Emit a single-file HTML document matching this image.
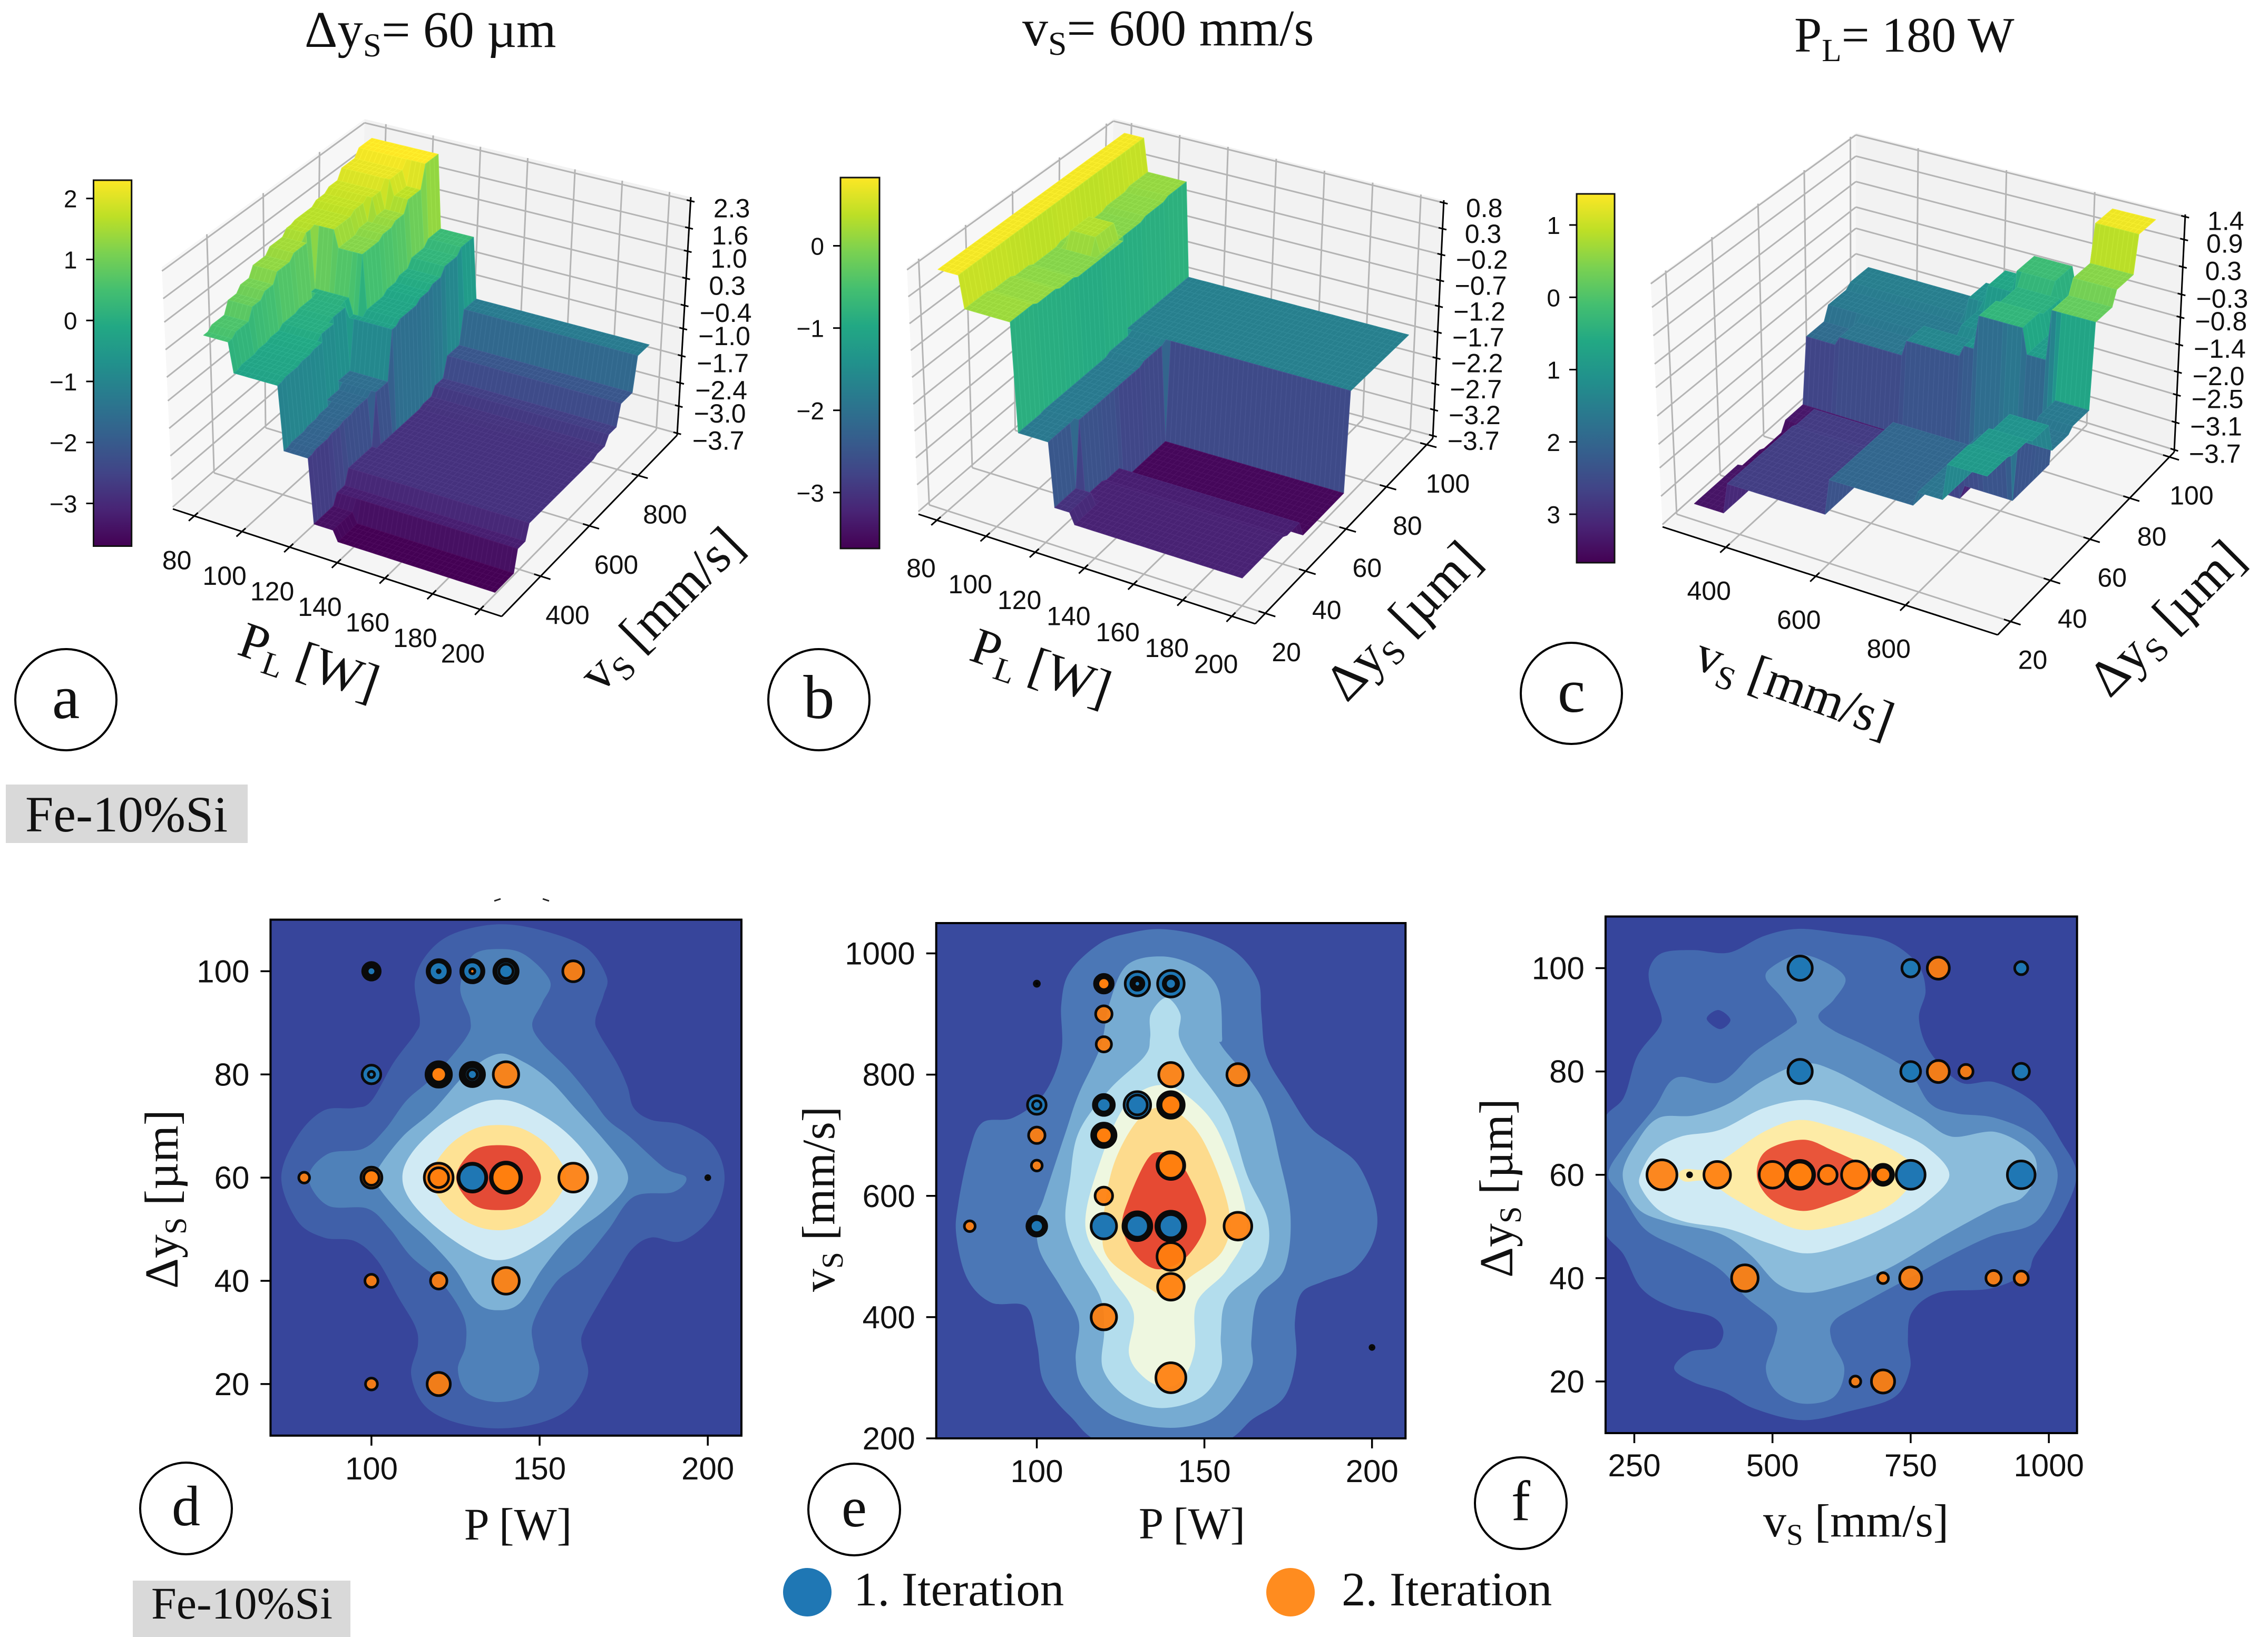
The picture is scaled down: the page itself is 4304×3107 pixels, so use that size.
<!DOCTYPE html>
<html>
<head>
<meta charset="utf-8">
<title>Fe-10%Si response surfaces and contour maps</title>
<style>
html,body{margin:0;padding:0;background:#fff;}
svg{display:block;}
.serif{font-family:"Liberation Serif","DejaVu Serif",serif;fill:#111;}
.sans{font-family:"Liberation Sans","DejaVu Sans",sans-serif;fill:#111;}
</style>
</head>
<body>
<svg id="fig" xmlns="http://www.w3.org/2000/svg" width="4304" height="3107" viewBox="0 0 4304 3107">
<rect width="4304" height="3107" fill="#ffffff"/>
<defs id="defs"></defs>

<g id="plot-a"></g>
<g id="plot-b"></g>
<g id="plot-c"></g>
<g id="plot-d"></g>
<g id="plot-e"></g>
<g id="plot-f"></g>

<text class="serif" x="578" y="89" font-size="97">Δy<tspan font-size="65%" dy="18">S</tspan><tspan dy="-18">= 60 µm</tspan></text>
<text class="serif" x="1940" y="86" font-size="98">v<tspan font-size="65%" dy="18">S</tspan><tspan dy="-18">= 600 mm/s</tspan></text>
<text class="serif" x="3405" y="98" font-size="94">P<tspan font-size="65%" dy="18">L</tspan><tspan dy="-18">= 180 W</tspan></text>

<text class="serif" transform="translate(586,1257) rotate(19)" y="30" text-anchor="middle" font-size="97">P<tspan font-size="65%" dy="18">L</tspan><tspan dy="-18"> [W]</tspan></text>
<text class="serif" transform="translate(1256,1158) rotate(-45)" y="30" text-anchor="middle" font-size="98">v<tspan font-size="65%" dy="18">S</tspan><tspan dy="-18"> [mm/s]</tspan></text>
<text class="serif" transform="translate(1975,1268) rotate(19)" y="30" text-anchor="middle" font-size="97">P<tspan font-size="65%" dy="18">L</tspan><tspan dy="-18"> [W]</tspan></text>
<text class="serif" transform="translate(2664,1180) rotate(-46)" y="30" text-anchor="middle" font-size="99">Δy<tspan font-size="65%" dy="18">S</tspan><tspan dy="-18"> [µm]</tspan></text>
<text class="serif" transform="translate(3405,1306) rotate(20)" y="30" text-anchor="middle" font-size="98">v<tspan font-size="65%" dy="18">S</tspan><tspan dy="-18"> [mm/s]</tspan></text>
<text class="serif" transform="translate(4113,1175) rotate(-45)" y="30" text-anchor="middle" font-size="98">Δy<tspan font-size="65%" dy="18">S</tspan><tspan dy="-18"> [µm]</tspan></text>

<text class="serif" x="983" y="2922" text-anchor="middle" font-size="86">P [W]</text>
<text class="serif" x="2262" y="2920" text-anchor="middle" font-size="85">P [W]</text>
<text class="serif" x="3522" y="2916" text-anchor="middle" font-size="88">v<tspan font-size="65%" dy="16">S</tspan><tspan dy="-16"> [mm/s]</tspan></text>
<text class="serif" transform="translate(337,2276) rotate(-90)" text-anchor="middle" font-size="90">Δy<tspan font-size="65%" dy="16">S</tspan><tspan dy="-16"> [µm]</tspan></text>
<text class="serif" transform="translate(1583,2276) rotate(-90)" text-anchor="middle" font-size="88">v<tspan font-size="65%" dy="16">S</tspan><tspan dy="-16"> [mm/s]</tspan></text>
<text class="serif" transform="translate(2870,2255) rotate(-90)" text-anchor="middle" font-size="90">Δy<tspan font-size="65%" dy="16">S</tspan><tspan dy="-16"> [µm]</tspan></text>

<g><circle cx="125" cy="1328" r="96" fill="#fff" stroke="#000" stroke-width="4"/><text class="serif" x="125" y="1363" text-anchor="middle" font-size="118">a</text></g>
<g><circle cx="1554" cy="1328" r="96" fill="#fff" stroke="#000" stroke-width="4"/><text class="serif" x="1554" y="1363" text-anchor="middle" font-size="118">b</text></g>
<g><circle cx="2982" cy="1316" r="96" fill="#fff" stroke="#000" stroke-width="4"/><text class="serif" x="2982" y="1351" text-anchor="middle" font-size="118">c</text></g>
<g><circle cx="353" cy="2863" r="87" fill="#fff" stroke="#000" stroke-width="4"/><text class="serif" x="353" y="2895" text-anchor="middle" font-size="108">d</text></g>
<g><circle cx="1621" cy="2865" r="87" fill="#fff" stroke="#000" stroke-width="4"/><text class="serif" x="1621" y="2897" text-anchor="middle" font-size="108">e</text></g>
<g><circle cx="2886" cy="2853" r="87" fill="#fff" stroke="#000" stroke-width="4"/><text class="serif" x="2886" y="2885" text-anchor="middle" font-size="108">f</text></g>

<g><rect x="11" y="1489" width="459" height="111" fill="#d9d9d9"/><text class="serif" x="240" y="1578" text-anchor="middle" font-size="96">Fe-10%Si</text></g>
<g><rect x="252" y="3000" width="413" height="107" fill="#d9d9d9"/><text class="serif" x="459" y="3072" text-anchor="middle" font-size="86">Fe-10%Si</text></g>

<g><ellipse cx="1532" cy="3022" rx="46" ry="46" fill="#1f77b4"/><text class="serif" x="1620" y="3047" font-size="91">1. Iteration</text></g>
<g><ellipse cx="2449" cy="3022" rx="46" ry="46" fill="#ff8c1f"/><text class="serif" x="2546" y="3047" font-size="91">2. Iteration</text></g>

<line x1="938" y1="1710" x2="950" y2="1706" stroke="#222" stroke-width="3"/>
<line x1="1030" y1="1706" x2="1042" y2="1710" stroke="#222" stroke-width="3"/>
</svg>

<script>
// ===== Surface a: stepped response, x = laser power, y = scan speed =====
const aRowEnds = [330,380,430,480,530,590,630,700,750,800,860,910];
const aRows = [
 [[90,.5],[110,-.25],[122,-1.85],[132,-3.45],[200,-3.7]],
 [[90,.6],[110,-.2],[122,-1.8],[132,-3.45],[200,-3.7]],
 [[90,.9],[110,-.15],[122,-1.75],[200,-3.2]],
 [[91,1.05],[110,-.1],[123,-1.7],[200,-2.85]],
 [[91,1.3],[109,0],[123,-1.65],[200,-2.85]],
 [[90,1.45],[107,.05],[124,-1.55],[200,-2.85]],
 [[88,1.6],[105,.1],[124,-.3],[200,-2.85]],
 [[96,1.65],[108,1.2],[125,-.2],[200,-2.85]],
 [[97,1.75],[108,1.3],[125,-.1],[200,-2.8]],
 [[98,1.85],[108,1.4],[125,0],[200,-2.6]],
 [[101,2.1],[109,1.7],[125,.2],[200,-2.1]],
 [[109,2.3],[125,.35],[200,-1.25]]
];
const aXTicks = [80,100,120,140,160,180,200];
const aYTicks = [400,600,800];
const aZTicks = [2.3,1.6,1.0,0.3,-0.4,-1.0,-1.7,-2.4,-3.0,-3.7];
const aColorRange = [-3.7,2.3];
const aBarTicks = [2,1,0,-1,-2,-3];
const aBarLabels = ["2","1","0","−1","−2","−3"];

// ===== Surface b: x = laser power, y = hatch distance =====
const bRowEnds = [30,40,48,60,71,80,90,100];
const bRows = [
 [[89,.75],[108,.15],[122,-1.87],[130,-3.05],[200,-3.25]],
 [[89,.75],[108,.1],[124,-1.85],[200,-3.25]],
 [[89,.75],[108,.05],[125,-1.85],[200,-3.3]],
 [[89,.75],[108,0],[125,-1.85],[200,-3.6]],
 [[89,.75],[92,.05],[105,.3],[108,0],[125,-1.8],[200,-3.6]],
 [[89,.75],[107,0],[200,-1.75]],
 [[89,.75],[107,.05],[200,-1.75]],
 [[88,.75],[107,.1],[200,-1.75]]
];
const bXTicks = [80,100,120,140,160,180,200];
const bYTicks = [20,40,60,80,100];
const bZTicks = [0.8,0.3,-0.2,-0.7,-1.2,-1.7,-2.2,-2.7,-3.2,-3.7];
const bColorRange = [-3.68,0.83];
const bBarTicks = [0,-1,-2,-3];
const bBarLabels = ["0","−1","−2","−3"];

// ===== Surface c: x = scan speed, y = hatch distance =====
const cRowEnds = [30,40,50,60,70,80,90,100];
const cRows = [
 [[370,-3.4],[600,-2.75],[790,-2],[860,-1.7],[950,-.95]],
 [[370,-3.4],[600,-2.75],[790,-2],[860,-1.7],[950,-1]],
 [[370,-3.5],[600,-2.75],[790,-2],[860,-1.7],[950,-1.1]],
 [[370,-3.55],[600,-2.8],[750,-3.3],[870,-3],[950,-1.7]],
 [[750,-3.35],[870,-3],[950,-1.6]],
 [[370,-1.9],[526,-1.7],[654,-1.35],[680,-1.1],[790,-.35],[850,-.9],[950,.2]],
 [[600,-1.6],[680,-1.2],[790,-.45],[850,-.9],[950,.5]],
 [[570,-1.5],[610,-1.1],[670,-.7],[770,-.2],[850,-.7],[950,1.3]]
];
const cXTicks = [400,600,800];
const cYTicks = [20,40,60,80,100];
const cZTicks = [1.4,0.9,0.3,-0.3,-0.8,-1.4,-2.0,-2.5,-3.1,-3.7];
const cColorRange = [-3.67,1.43];
const cBarTicks = [1,0,-1,-2,-3];
const cBarLabels = ["1","0","1","2","3"];

// ===== Contour d: outlines in (P [W], hatch [µm]) data units =====
const dLevels = [
 [[137.8,109.1],[150.8,107.9],[163.8,104.6],[169.9,99],[169,95.3],[166.6,90.7],[167.7,87.9],[172.9,82.3],[176.1,77.7],[178,73.5],[183.2,71.2],[192.3,70.2],[201.4,66.5],[205,60],[201.4,52.6],[192.3,47.7],[183.2,48.4],[177.4,46.1],[172.9,41.4],[167.7,35.8],[163.1,30.3],[162.5,27.5],[164.4,21.9],[159.9,15.9],[150.8,12.6],[137.8,11.4],[124.8,12.6],[115.7,15.9],[111.8,21.9],[113.8,27.5],[113,31.2],[108,36.8],[101.7,44],[95,47.7],[85.8,48.4],[78,51.6],[73.2,60],[78,68],[85.8,73],[95,73.5],[100,74.9],[106.6,82.3],[113,87.9],[114.4,90.7],[112.9,98.1],[117,103.7],[124.8,107.4]],
 [[137.8,104.3],[145.6,103.2],[153.1,98.1],[150.8,93.9],[147.8,89.7],[150.8,86],[158.6,80.9],[165,75.8],[170.3,71.2],[176.8,67.9],[187.1,61.9],[193.6,60],[189.7,57.2],[178,56.3],[170.3,49.8],[162.5,43.7],[154.7,39.6],[148.2,32.1],[148.2,27.5],[149.9,22.8],[146.9,18.2],[137.8,16.5],[128.7,18.2],[125.7,22.8],[128,27.5],[127.4,33],[120.9,39.6],[111.8,44.7],[105.3,50.2],[98.8,54],[87,54.6],[81.3,60],[87,64.6],[97.5,65.6],[104,69.3],[110.5,75],[118.3,79.5],[128,87],[129.4,90.7],[126.4,96.7],[130,103]],
 [[137.8,84],[145.6,82.3],[153.4,78.6],[161.2,73],[169,67.4],[175.5,61.9],[175.5,58.1],[169,53.5],[158.6,48.4],[150.8,42.3],[144.3,35.8],[137.8,34.3],[131.3,35.8],[124.8,42.3],[117,47.9],[109.2,52.6],[101.7,58.6],[101.7,61.4],[109.2,67.9],[118.3,73],[128.7,80.5]],
 [[137.8,75.1],[145.6,73.9],[156,69.8],[163.8,64.6],[167.3,60],[163.8,55.4],[156,50.2],[145.6,45.6],[137.8,44],[130,45.6],[119.6,50.2],[111.8,55.4],[109.2,60],[111.8,64.6],[119.6,69.8],[130,73.9]],
 [[137.8,70.2],[145.6,69.3],[153.4,65.6],[157.9,60],[153.4,54.4],[145.6,50.9],[137.8,49.8],[130,50.9],[122.2,54.4],[117.7,60],[122.2,65.6],[130,69.3]],
 [[137.8,66.3],[145.6,65.1],[150.4,60],[145.6,54.9],[137.8,53.7],[130,54.9],[125.2,60],[130,65.1]]
];
const dHoles = [];
// each point: [P, hatch, marker size, iteration]; repeated coordinates are overlapping trials
const dPoints = [
 [80,60,9,2],[100,60,18,2],[100,60,13,2],[100,40,11,2],[100,20,10,2],
 [120,60,25,2],[120,60,17,2],[120,40,14,2],[120,20,20,2],
 [140,60,27,2],[140,60,24,2],[140,40,23,2],[160,60,25,2],[160,100,18,2],
 [120,80,22,2],[120,80,19,2],[120,80,16,2],[120,80,13,2],[140,80,22,2],[200,60,3,0],
 [100,100,15,1],[100,100,11,1],[100,100,7,1],
 [120,100,20,1],[120,100,16,1],[120,100,2,1],
 [130,100,20,1],[130,100,16,1],[130,100,4,2],
 [140,100,21,1],[140,100,17,1],[140,100,12,1],
 [100,80,16,1],[100,80,5,1],
 [130,80,21,1],[130,80,17,1],[130,80,13,1],[130,80,8,1],
 [130,60,25,1],[130,60,23,1]
];
const dXTicks = [100,150,200];
const dYTicks = [20,40,60,80,100];

// ===== Contour e: outlines in (P [W], scan speed [mm/s]) data units =====
const eLevels = [
 [[137.3,1040],[149,1029],[159.4,1002],[166,955],[167,900],[168.6,830],[175.1,768],[181.6,713],[188.1,686],[195.9,651],[201.2,580],[200.5,526],[194.6,479],[185.5,459],[179,440],[177,393],[177.3,331],[173.8,268],[164.7,233],[152.9,190],[121.6,190],[109.9,237],[102.1,292],[100.1,354],[96.9,417],[86.4,424],[79.3,463],[76,534],[76.6,588],[79.9,674],[83.8,721],[93,729],[102.1,768],[107.3,838],[107.3,916],[109.9,970],[119,1017],[128.1,1034]],
 [[137.3,995],[147.7,978],[154.2,939],[155.3,861],[155.3,846],[167.3,760],[172.5,658],[175.7,565],[173.8,479],[166,432],[164,362],[164,315],[156.8,253],[149,225],[137.3,218],[122.9,237],[113.8,284],[111.6,331],[112.5,393],[107.3,448],[100.8,510],[100.1,565],[102.1,596],[108.6,705],[112.5,768],[119,846],[121.6,916],[126.8,980]],
 [[138.6,927],[142.8,900],[142.5,861],[147.1,814],[156.8,736],[162.7,635],[169,557],[167.3,487],[156.8,432],[154.9,370],[154.9,315],[149,268],[137.3,250],[126.8,268],[119.7,315],[120.1,378],[119,432],[112.5,495],[108.6,557],[109.9,627],[112.5,705],[121.6,775],[132.1,830],[133.8,861],[134,900]],
 [[137.3,783],[147.7,752],[155.5,690],[162.7,557],[156.8,479],[147.7,424],[147.1,346],[143.8,300],[138.6,284],[132.1,300],[127.5,339],[128.8,409],[121.6,471],[114.5,549],[119,658],[126.8,752]],
 [[139.2,744],[149,697],[157.2,580],[155.5,510],[145.1,463],[139.9,432],[133.4,448],[121.6,495],[119.7,549],[122.9,651],[130.8,729]],
 [[136.6,672],[142.5,658],[149.7,580],[149.7,541],[143.8,495],[136,479],[129.5,502],[125.5,549],[127.5,596],[132.7,658]]
];
const eHoles = [];
const ePoints = [
 [100,950,4,0],[120,950,16,2],[120,950,13,2],[120,950,10,2],
 [130,950,21,1],[130,950,11,1],[130,950,8,1],[130,950,5,1],
 [140,950,23,1],[140,950,13,1],[140,950,9,1],
 [120,900,14,2],[120,850,13,2],[140,800,21,2],[160,800,19,2],
 [100,750,16,1],[100,750,7,1],
 [120,750,18,1],[120,750,15,1],[120,750,12,1],
 [130,750,23,1],[130,750,17,1],
 [140,750,23,2],[140,750,20,2],[140,750,17,2],
 [100,700,14,2],[120,700,21,2],[120,700,18,2],[120,700,14,2],
 [100,650,9,2],[140,650,24,2],[140,650,22,2],[120,600,15,2],
 [80,550,9,2],[100,550,17,1],[100,550,14,1],[100,550,11,1],
 [120,550,22,1],[130,550,25,1],[130,550,22,1],[130,550,19,1],
 [140,550,26,1],[140,550,23,1],[140,550,20,1],[160,550,24,2],
 [140,500,24,2],[140,450,23,2],[120,400,22,2],[140,300,26,2],[200,350,3,0]
];
const eXTicks = [100,150,200];
const eYTicks = [200,400,600,800,1000];

// ===== Contour f: outlines in (scan speed [mm/s], hatch [µm]) data units =====
const fLevels = [
 [[547,107.6],[626,106.7],[706,105.3],[761,101],[777,95.7],[765,90.2],[785,83.8],[840,77.9],[903,77.9],[975,73.8],[1022,66.5],[1050,60],[1022,51.8],[975,44.5],[959,41],[895,38],[801,37.2],[753,33.5],[745,28],[749,22.5],[721,17],[642,14.3],[555,12.5],[468,14.7],[413,17.9],[358,19.8],[322,22.5],[350,25.7],[397,26.6],[411,29.8],[389,32.6],[318,34.4],[263,38],[231,44.5],[190,51],[190,69],[231,75],[255,82.9],[294,88.4],[298,91.2],[278.5,96.7],[278.5,100.3],[302,103],[358,103.5],[421,103],[484,106.2]],
 [[547,102.6],[595,101.2],[632,98],[611,93.9],[583,90.7],[611,87.9],[674,84.7],[745,80.2],[785,73.8],[832,71.9],[903,71],[975,67.4],[1016,60],[978,51],[895,48.1],[824,44.5],[761,40.8],[666,35.3],[611,31.7],[607,28],[630,22.5],[611,17],[555,15.7],[508,17.9],[488,22.5],[504,28],[504,31.7],[452,36.3],[405,41.7],[342,45.4],[271,49.3],[231,55.5],[203,60],[231,65.5],[286,72.9],[326,78.8],[405,77.9],[468,83.8],[532,88.4],[543,90.2],[516,94.4],[488,98],[500,100.3]],
 [[555,81.5],[611,80.2],[706,74.7],[769,71],[824,67.4],[903,68.3],[967,64.6],[977,60],[951,55.5],[903,53.6],[808,48.1],[706,41.7],[611,38.1],[555,37.2],[508,39],[460,44.5],[405,48.6],[310,50.9],[255,53.6],[229,60],[255,66.4],[294,71],[358,71.5],[421,73.8],[484,78.3]],
 [[559,74.5],[626,72.9],[706,69.2],[777,65.5],[820,60],[777,54.6],[706,50],[626,46.3],[559,44.8],[492,46.8],[421,49.5],[342,50.9],[294,53.2],[263,57.3],[261,60],[286,64.6],[334,67.4],[405,68.7],[484,72.9]],
 [[547,70.6],[611,69.2],[706,65.5],[757,61],[729,55.5],[666,51.8],[563,49.3],[492,51.8],[429,55.5],[381,58.7],[342,58.7],[330,60],[342,61.1],[381,61.1],[421,63.7],[484,68.3]],
 [[555,66.8],[611,64.6],[666,61.9],[686,60],[658,56.8],[611,54.6],[555,53],[500,55],[472,59.6],[488,64.6]]
];
const fHoles = [
 [[381,90.2],[402,91.9],[424,90],[405,88.2]]
];
const fPoints = [
 [300,60,26,2],[350,60,3,0],[400,60,23,2],[500,60,23,2],
 [550,60,25,2],[550,60,22,2],[600,60,16,2],[650,60,24,2],
 [700,60,18,2],[700,60,15,2],[700,60,13,2],[750,60,25,1],[950,60,24,1],
 [550,100,21,1],[750,100,15,1],[800,100,19,2],[950,100,11,1],
 [550,80,21,1],[750,80,17,1],[800,80,19,2],[850,80,12,2],[950,80,14,1],
 [450,40,23,2],[700,40,9,2],[750,40,19,2],[900,40,13,2],[950,40,12,2],
 [650,20,9,2],[700,20,20,2]
];
const fXTicks = [250,500,750,1000];
const fYTicks = [20,40,60,80,100];

const viridisStops = ["#440154","#482475","#414487","#355f8d","#2a788e","#21918c","#22a884","#44bf70","#7ad151","#bddf26","#fde725"];
const iterationColors = ["#000000","#1f77b4","#ff7f0e"];

const NS = "http://www.w3.org/2000/svg";
function hexRgb(h){return [parseInt(h.slice(1,3),16),parseInt(h.slice(3,5),16),parseInt(h.slice(5,7),16)];}
const viridisRgb = viridisStops.map(hexRgb);
function viridis(t){
  t=Math.max(0,Math.min(1,t));
  const p=t*(viridisRgb.length-1), i=Math.min(viridisRgb.length-2,Math.floor(p)), f=p-i;
  return viridisRgb[i].map((c,k)=>c+(viridisRgb[i+1][k]-c)*f);
}
function rgbStr(c,add){add=add||0;return "rgb("+c.map(v=>Math.round(Math.min(255,v+add))).join(",")+")";}
function mk(tag,parent){const e=document.createElementNS(NS,tag);parent.appendChild(e);return e;}
function setA(e,o){for(const k in o)e.setAttribute(k,o[k]);return e;}
function lab(v){return String(v).replace("-","−");}

// trilinear axis projection from the eight box corners
function project(c,x,y,z){
  const u=(x-c.x[0])/(c.x[1]-c.x[0]), v=(y-c.y[0])/(c.y[1]-c.y[0]), w=(z-c.z[0])/(c.z[1]-c.z[0]);
  const bl=(q,k)=>{
    const a=q[0][k]+(q[1][k]-q[0][k])*u, b=q[3][k]+(q[2][k]-q[3][k])*u;
    return a+(b-a)*v;
  };
  const bx=bl(c.floor,0),by=bl(c.floor,1),tx=bl(c.top,0),ty=bl(c.top,1);
  return [bx+(tx-bx)*w,by+(ty-by)*w];
}
function zAt(rowEnds,rows,x,y){
  let r=rows.length-1;
  for(let i=0;i<rowEnds.length;i++){if(y<=rowEnds[i]+1e-6){r=i;break;}}
  const row=rows[r];
  for(let i=0;i<row.length;i++){if(x<=row[i][0]+1e-6)return row[i][1];}
  return row[row.length-1][1];
}
function ptsStr(a){return a.map(p=>p[0].toFixed(1)+","+p[1].toFixed(1)).join(" ");}

function drawSurfacePlot(g,c){
  const P=(x,y,z)=>project(c,x,y,z);
  const x0=c.x[0],x1=c.x[1],y0=c.y[0],y1=c.y[1],z0=c.z[0],z1=c.z[1];
  const leftPane=mk("polygon",g);
  setA(leftPane,{points:ptsStr([P(x0,y0,z0),P(x0,y1,z0),P(x0,y1,z1),P(x0,y0,z1)]),fill:"#f7f7f7"});
  
  
  const backPane=mk("polygon",g);
  setA(backPane,{points:ptsStr([P(x0,y1,z0),P(x1,y1,z0),P(x1,y1,z1),P(x0,y1,z1)]),fill:"#f2f2f2"});
  
  
  const floorPane=mk("polygon",g);
  setA(floorPane,{points:ptsStr([P(x0,y0,z0),P(x1,y0,z0),P(x1,y1,z0),P(x0,y1,z0)]),fill:"#f5f5f5"});
  
  

  function grid(a,b){
    const l=mk("line",g);
    setA(l,{x1:a[0],y1:a[1],x2:b[0],y2:b[1],stroke:"#b4b4b4","stroke-width":3});
    
    
  }
  c.xTicks.forEach(t=>{grid(P(t,y0,z0),P(t,y1,z0));grid(P(t,y1,z0),P(t,y1,z1));});
  c.yTicks.forEach(t=>{grid(P(x1,t,z0),P(x0,t,z0));grid(P(x0,t,z0),P(x0,t,z1));});
  c.zTicks.forEach(t=>{grid(P(x0,y0,t),P(x0,y1,t));grid(P(x0,y1,t),P(x1,y1,t));});

  // surface mesh, painted from the far corner towards the viewer
  const nx=c.nx,ny=c.ny,xs=[],ys=[],zv=[];
  for(let i=0;i<=nx;i++)xs.push(c.dataX[0]+(c.dataX[1]-c.dataX[0])*i/nx);
  for(let j=0;j<=ny;j++)ys.push(c.dataY[0]+(c.dataY[1]-c.dataY[0])*j/ny);
  const zmin=c.colorRange[0],zmax=c.colorRange[1];
  for(let i=0;i<=nx;i++){zv.push([]);for(let j=0;j<=ny;j++)zv[i].push(zAt(c.rowEnds,c.rows,xs[i],ys[j]));}
  const sg=mk("g",g);
  
  
  for(let i=0;i<nx;i++){
    for(let j=ny-1;j>=0;j--){
      const m=(zv[i][j]+zv[i+1][j]+zv[i+1][j+1]+zv[i][j+1])/4;
      const col=viridis((m-zmin)/(zmax-zmin));
      const q=mk("polygon",sg);
      setA(q,{points:ptsStr([P(xs[i],ys[j],zv[i][j]),P(xs[i+1],ys[j],zv[i+1][j]),P(xs[i+1],ys[j+1],zv[i+1][j+1]),P(xs[i],ys[j+1],zv[i][j+1])]),fill:rgbStr(col),stroke:rgbStr(col,10),"stroke-width":1.2,"stroke-linejoin":"round"});
      
      
    }
  }

  function axisLine(a,b,name){
    const l=mk("line",g);
    setA(l,{x1:a[0],y1:a[1],x2:b[0],y2:b[1],stroke:"#000","stroke-width":3});
    
    
  }
  axisLine(P(x0,y0,z0),P(x1,y0,z0),'x-axis-line');
  axisLine(P(x1,y0,z0),P(x1,y1,z0),'y-axis-line');
  axisLine(P(x1,y1,z0),P(x1,y1,z1),'z-axis-line');
  const rx=x1-x0, ry=y1-y0;
  function tickText(p,off,s,name){
    const t=mk("text",g);
    setA(t,{x:p[0]+off[0],y:p[1]+off[1]+17,"text-anchor":"middle","font-size":c.font,"class":"sans"});
    t.textContent=s;
    
    
  }
  c.xTicks.forEach(t=>{
    axisLine(P(t,y0-.03*ry,z0),P(t,y0+.02*ry,z0),'x-axis-tick');
    tickText(P(t,y0,z0),c.xLabelOff,lab(t),'x-tick-label');
  });
  c.yTicks.forEach(t=>{
    axisLine(P(x1-.02*rx,t,z0),P(x1+.03*rx,t,z0),'y-axis-tick');
    tickText(P(x1,t,z0),c.yLabelOff,lab(t),'y-tick-label');
  });
  c.zTicks.forEach(t=>{
    axisLine(P(x1-.012*rx,y1,t),P(x1+.012*rx,y1,t),'z-axis-tick');
    tickText(P(x1,y1,t),c.zLabelOff,lab(t.toFixed(1)),'z-tick-label');
  });

  // colour bar
  const b=c.bar, defs=document.getElementById("defs");
  const gr=mk("linearGradient",defs);
  setA(gr,{id:"grad-"+c.id,x1:0,y1:1,x2:0,y2:0});
  
  
  viridisStops.forEach((s,i)=>{const st=mk("stop",gr);setA(st,{offset:(i/(viridisStops.length-1)*100)+"%","stop-color":s});});
  const bar=mk("rect",g);
  setA(bar,{x:b.x0,y:b.y0,width:b.x1-b.x0,height:b.y1-b.y0,fill:"url(#grad-"+c.id+")",stroke:"#111","stroke-width":3});
  
  
  const yBar=v=>b.y0+(b.y1-b.y0)*(zmax-v)/(zmax-zmin);
  c.barTicks.forEach((v,i)=>{
    const l=mk("line",g);
    setA(l,{x1:b.x0-14,x2:b.x0,y1:yBar(v),y2:yBar(v),stroke:"#000","stroke-width":3});
    
    
    const t=mk("text",g);
    setA(t,{x:b.x0-31,y:yBar(v)+17,"text-anchor":"end","font-size":c.barFont,"class":"sans"});
    t.textContent=c.barLabels[i];
    
    
  });
}

function smoothClosed(pts){
  const n=pts.length;
  let d="M"+pts[0][0].toFixed(1)+" "+pts[0][1].toFixed(1);
  for(let i=0;i<n;i++){
    const p0=pts[(i-1+n)%n],p1=pts[i],p2=pts[(i+1)%n],p3=pts[(i+2)%n];
    d+="C"+(p1[0]+(p2[0]-p0[0])/6).toFixed(1)+" "+(p1[1]+(p2[1]-p0[1])/6).toFixed(1)+" "+(p2[0]-(p3[0]-p1[0])/6).toFixed(1)+" "+(p2[1]-(p3[1]-p1[1])/6).toFixed(1)+" "+p2[0].toFixed(1)+" "+p2[1].toFixed(1);
  }
  return d+"Z";
}

function drawContourPlot(g,c){
  const X=v=>c.L+(v-c.xlim[0])/(c.xlim[1]-c.xlim[0])*(c.R-c.L);
  const Y=v=>c.B-(v-c.ylim[0])/(c.ylim[1]-c.ylim[0])*(c.B-c.T);
  const defs=document.getElementById("defs");
  const cp=mk("clipPath",defs);
  cp.setAttribute("id","clip-"+c.id);
  const cr=mk("rect",cp);
  setA(cr,{x:c.L,y:c.T,width:c.R-c.L,height:c.B-c.T});
  const bg=mk("rect",g);
  setA(bg,{x:c.L,y:c.T,width:c.R-c.L,height:c.B-c.T,fill:c.colors[0]});
  
  
  const cg=mk("g",g);
  cg.setAttribute("clip-path","url(#clip-"+c.id+")");
  
  
  c.levels.forEach((lv,i)=>{
    const p=mk("path",cg);
    setA(p,{d:smoothClosed(lv.map(q=>[X(q[0]),Y(q[1])])),fill:c.colors[i+1]});
    
    
  });
  c.holes.forEach(lv=>{
    const p=mk("path",cg);
    setA(p,{d:smoothClosed(lv.map(q=>[X(q[0]),Y(q[1])])),fill:c.colors[0]});
    
    
  });
  c.points.forEach(pt=>{
    const m=mk("circle",g);
    setA(m,{cx:X(pt[0]),cy:Y(pt[1]),r:pt[2]*1.07+.6,fill:iterationColors[pt[3]],"fill-opacity":pt[3]==2?0.93:1,stroke:"#0a0a0a","stroke-width":5});
    
    
  });
  const fr=mk("rect",g);
  setA(fr,{x:c.L,y:c.T,width:c.R-c.L,height:c.B-c.T,fill:"none",stroke:"#000","stroke-width":4});
  
  
  c.xTicks.forEach(t=>{
    const l=mk("line",g);
    setA(l,{x1:X(t),x2:X(t),y1:c.B,y2:c.B+19,stroke:"#000","stroke-width":3.5});
    
    
    const s=mk("text",g);
    setA(s,{x:X(t),y:c.xLabelY,"text-anchor":"middle","font-size":60,"class":"sans"});
    s.textContent=t;
    
    
  });
  c.yTicks.forEach(t=>{
    const l=mk("line",g);
    setA(l,{x1:c.L-19,x2:c.L,y1:Y(t),y2:Y(t),stroke:"#000","stroke-width":3.5});
    
    
    const s=mk("text",g);
    setA(s,{x:c.L-40,y:Y(t)+21,"text-anchor":"end","font-size":60,"class":"sans"});
    s.textContent=t;
    
    
  });
}

drawSurfacePlot(document.getElementById("plot-a"),{
  id:"a",x:[71,209],y:[240,960],z:[-3.75,2.4],
  floor:[[328,966],[952,1170],[1285,826],[680,658]],
  top:[[307,507],[957,676],[1311,374],[692,226]],
  dataX:[80,200],dataY:[300,910],nx:60,ny:40,rowEnds:aRowEnds,rows:aRows,colorRange:aColorRange,
  xTicks:aXTicks,yTicks:aYTicks,zTicks:aZTicks,font:50,
  xLabelOff:[-33,84],yLabelOff:[51,74],zLabelOff:[78,14],
  bar:{x0:177.5,x1:249.7,y0:342,y1:1036.5},barTicks:aBarTicks,barLabels:aBarLabels,barFont:46
});
drawSurfacePlot(document.getElementById("plot-b"),{
  id:"b",x:[72.5,209.5],y:[15,103],z:[-3.75,.85],
  floor:[[1743,976],[2382,1184],[2719,832],[2102,665]],
  top:[[1721,507],[2386,696],[2740,380],[2113,225]],
  dataX:[80,200],dataY:[20,100],nx:60,ny:40,rowEnds:bRowEnds,rows:bRows,colorRange:bColorRange,
  xTicks:bXTicks,yTicks:bYTicks,zTicks:bZTicks,font:50,
  xLabelOff:[-30,91],yLabelOff:[40,74],zLabelOff:[77,10],
  bar:{x0:1595,x1:1669,y0:337,y1:1041},barTicks:bBarTicks,barLabels:bBarLabels,barFont:46
});
drawSurfacePlot(document.getElementById("plot-c"),{
  id:"c",x:[259,1005],y:[13.5,102.4],z:[-3.75,1.45],
  floor:[[3155,1000],[3791,1205],[4126,858],[3522,671]],
  top:[[3132.5,534],[3796,716],[4147,407],[3522,252]],
  dataX:[300,950],dataY:[20,100],nx:60,ny:40,rowEnds:cRowEnds,rows:cRows,colorRange:cColorRange,
  xTicks:cXTicks,yTicks:cYTicks,zTicks:cZTicks,font:50,
  xLabelOff:[-32,83],yLabelOff:[42,73],zLabelOff:[77,8],
  bar:{x0:2992,x1:3064,y0:368,y1:1068},barTicks:cBarTicks,barLabels:cBarLabels,barFont:46
});
drawContourPlot(document.getElementById("plot-d"),{
  id:"d",L:513.4,R:1407,T:1745.5,B:2724.8,xlim:[70,210],ylim:[10,110],
  colors:["#37459b","#4060a9","#4f81b9","#7eb2d6","#d0eaf4","#fee294","#e44b36"],
  levels:dLevels,holes:dHoles,points:dPoints,xTicks:dXTicks,yTicks:dYTicks,xLabelY:2808
});
drawContourPlot(document.getElementById("plot-e"),{
  id:"e",L:1776.7,R:2667.3,T:1752,B:2730,xlim:[70,210],ylim:[200,1050],
  colors:["#394a9e","#4b77b6","#76abd2","#b3dded","#eef7e0","#fddb8d","#e64a33"],
  levels:eLevels,holes:eHoles,points:ePoints,xTicks:eXTicks,yTicks:eYTicks,xLabelY:2813
});
drawContourPlot(document.getElementById("plot-f"),{
  id:"f",L:3046.9,R:3941.6,T:1739.5,B:2720,xlim:[198,1051],ylim:[10,110],
  colors:["#36459c","#4369af","#5b8dc1","#8bbcdb","#cfeaf4","#fdeba6","#e9553a"],
  levels:fLevels,holes:fHoles,points:fPoints,xTicks:fXTicks,yTicks:fYTicks,xLabelY:2802
});
</script>
</body>
</html>
